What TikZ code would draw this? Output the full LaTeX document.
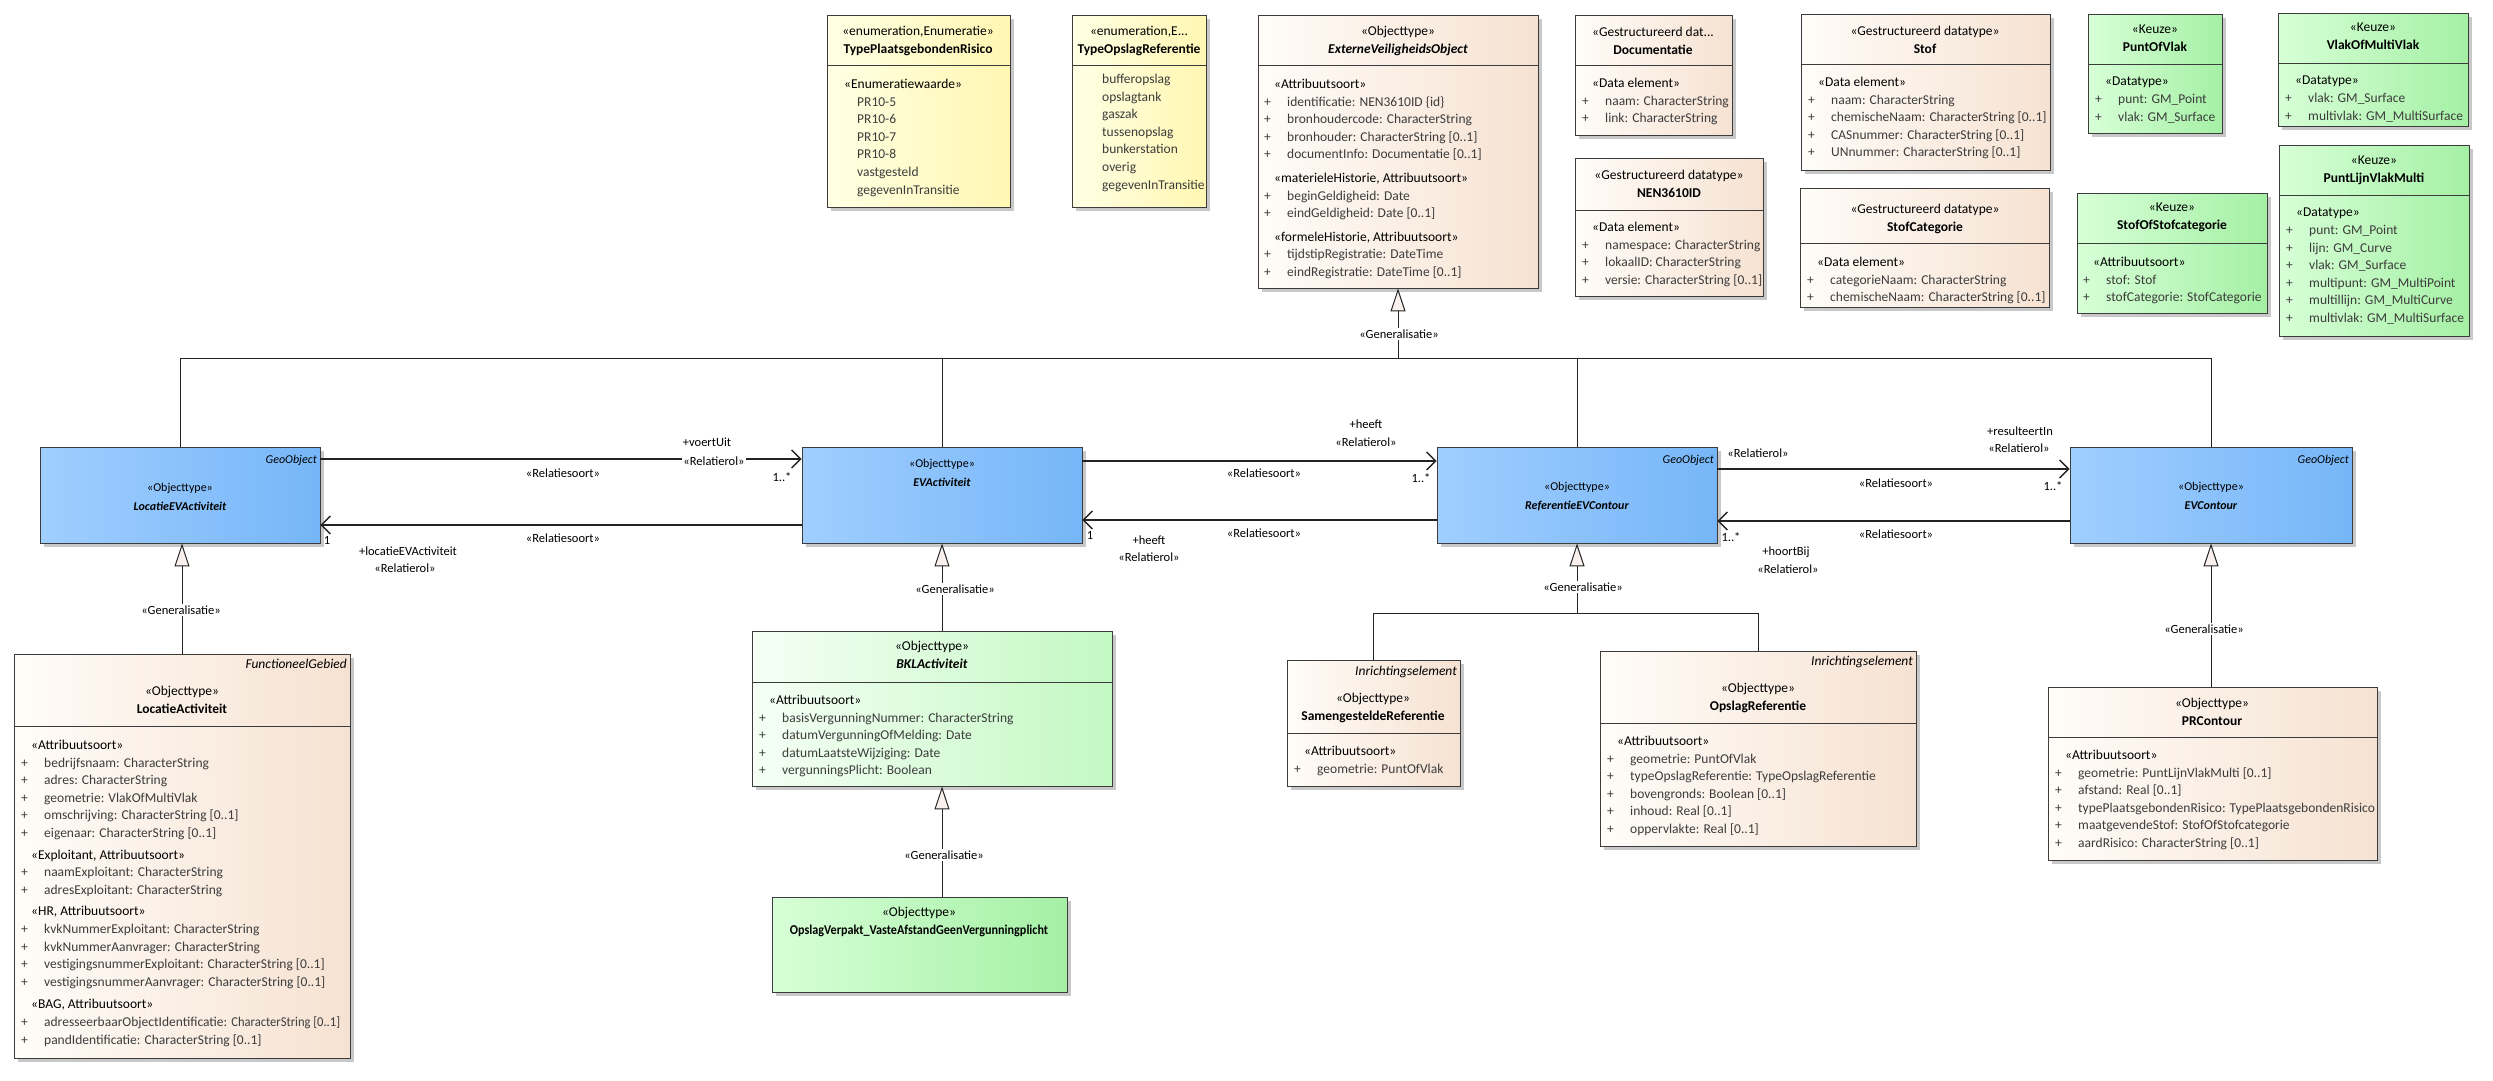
\documentclass[tikz,border=0pt]{standalone}
\usepackage{fontspec}
\setmainfont{Carlito}
\usetikzlibrary{arrows.meta, positioning, fit, shadows}
\usepackage{xcolor}
\definecolor{boxline}{RGB}{60,60,60}
\definecolor{linegray}{RGB}{35,35,35}
\definecolor{attrgray}{RGB}{60,60,60}
\definecolor{objleft}{RGB}{255,252,248}
\definecolor{objright}{RGB}{246,226,210}
\definecolor{enumleft}{RGB}{255,255,228}
\definecolor{enumright}{RGB}{255,247,178}
\definecolor{keuzeleft}{RGB}{215,255,215}
\definecolor{keuzeright}{RGB}{165,240,165}
\definecolor{bklleft}{RGB}{245,255,245}
\definecolor{bklright}{RGB}{195,248,195}
\definecolor{geoleft}{RGB}{160,206,255}
\definecolor{georight}{RGB}{118,182,248}
\definecolor{genfill}{RGB}{250,240,238}
\definecolor{shadowgray}{RGB}{200,200,200}
\newcommand{\umlgrp}[1]{\hspace*{10pt}{\color{black}#1}}
\newcommand{\umlattr}[1]{\makebox[23pt][l]{+}#1}
\newcommand{\umlval}[1]{\hspace*{23pt}#1}

\begin{document}
\begin{tikzpicture}[x=1pt, y=-1pt,
  box/.style={rectangle, draw=boxline, line width=0.9pt, inner sep=0pt,
    drop shadow={shadow xshift=4pt, shadow yshift=-4pt, fill=shadowgray, opacity=1}},
  objbox/.style={box, left color=objleft, right color=objright},
  enumbox/.style={box, left color=enumleft, right color=enumright},
  keuzebox/.style={box, left color=keuzeleft, right color=keuzeright},
  bklbox/.style={box, left color=bklleft, right color=bklright},
  geobox/.style={box, left color=geoleft, right color=georight},
  sep/.style={draw=boxline, line width=0.9pt},
  hdr/.style={anchor=north, align=center, inner sep=0pt, font=\fontsize{13.5}{17.6}\selectfont},
  attrs/.style={anchor=north west, align=left, inner sep=0pt, text=attrgray, font=\fontsize{13.5}{17.6}\selectfont},
  tag/.style={anchor=north east, inner sep=0pt, font=\fontsize{13.5}{17.6}\selectfont\itshape},
  geotxt/.style={anchor=north, align=center, inner sep=0pt, font=\fontsize{12}{19}\selectfont},
  lbl/.style={inner sep=1pt, font=\fontsize{12.5}{14}\selectfont},
  genlbl/.style={lbl, fill=white, inner sep=2pt},
  assoc/.style={draw=linegray, line width=1.6pt, -{Straight Barb[length=9pt, width=18pt, line width=1.3pt]}},
  genline/.style={draw=linegray, line width=1pt},
  gen/.style={genline, -{Triangle[length=23pt, width=15pt, fill=genfill, line width=1pt]}},
]
\path[use as bounding box, fill=white] (0,0) rectangle (2493,1080);

% enumeraties
\node[enumbox, fit={(827,15) (1010,207)}] (tpr) {};
\draw[sep] (827,65) -- (1010,65);
\node[hdr] (tpr-h) at (918,26) {«enumeration,Enumeratie»\\\textbf{TypePlaatsgebondenRisico}};
\node[attrs] (tpr-a) at (834,79) {\umlgrp{«Enumeratiewaarde»}\\\umlval{PR10-5}\\\umlval{PR10-6}\\\umlval{PR10-7}\\\umlval{PR10-8}\\\umlval{vastgesteld}\\\umlval{gegevenInTransitie}};

\node[enumbox, fit={(1072,15) (1206,207)}] (tor) {};
\draw[sep] (1072,65) -- (1206,65);
\node[hdr] (tor-h) at (1139,26) {«enumeration,E...\\\textbf{TypeOpslagReferentie}};
\node[attrs] (tor-a) at (1079,74) {\umlval{bufferopslag}\\\umlval{opslagtank}\\\umlval{gaszak}\\\umlval{tussenopslag}\\\umlval{bunkerstation}\\\umlval{overig}\\\umlval{gegevenInTransitie}};

% supertype
\node[objbox, fit={(1258,15) (1538,288)}] (evo) {};
\draw[sep] (1258,65) -- (1538,65);
\node[hdr] (evo-h) at (1398,26) {«Objecttype»\\\textbf{\textit{ExterneVeiligheidsObject}}};
\node[attrs] (evo-a) at (1264,79) {\umlgrp{«Attribuutsoort»}\\\umlattr{identificatie: NEN3610ID \{id\}}\\\umlattr{bronhoudercode: CharacterString}\\\umlattr{bronhouder: CharacterString [0..1]}\\\umlattr{documentInfo: Documentatie [0..1]}\\[6pt]
  \umlgrp{«materieleHistorie, Attribuutsoort»}\\\umlattr{beginGeldigheid: Date}\\\umlattr{eindGeldigheid: Date [0..1]}\\[6pt]
  \umlgrp{«formeleHistorie, Attribuutsoort»}\\\umlattr{tijdstipRegistratie: DateTime}\\\umlattr{eindRegistratie: DateTime [0..1]}};

% datatypes
\node[objbox, fit={(1575,15) (1732,135)}] (doc) {};
\draw[sep] (1575,65) -- (1732,65);
\node[hdr] (doc-h) at (1653,27) {«Gestructureerd dat...\\\textbf{Documentatie}};
\node[attrs] (doc-a) at (1582,78) {\umlgrp{«Data element»}\\\umlattr{naam: CharacterString}\\\umlattr{link: CharacterString}};

\node[objbox, fit={(1575,158) (1763,296)}] (nen) {};
\draw[sep] (1575,210) -- (1763,210);
\node[hdr] (nen-h) at (1669,170) {«Gestructureerd datatype»\\\textbf{NEN3610ID}};
\node[attrs] (nen-a) at (1582,222) {\umlgrp{«Data element»}\\\umlattr{namespace: CharacterString}\\\umlattr{lokaalID: CharacterString}\\\umlattr{versie: CharacterString [0..1]}};

\node[objbox, fit={(1801,14) (2050,170)}] (stof) {};
\draw[sep] (1801,64) -- (2050,64);
\node[hdr] (stof-h) at (1925,26) {«Gestructureerd datatype»\\\textbf{Stof}};
\node[attrs] (stof-a) at (1808,77) {\umlgrp{«Data element»}\\\umlattr{naam: CharacterString}\\\umlattr{chemischeNaam: CharacterString [0..1]}\\\umlattr{CASnummer: CharacterString [0..1]}\\\umlattr{UNnummer: CharacterString [0..1]}};

\node[objbox, fit={(1800,188) (2049,307)}] (stofcat) {};
\draw[sep] (1800,243) -- (2049,243);
\node[hdr] (stofcat-h) at (1925,204) {«Gestructureerd datatype»\\\textbf{StofCategorie}};
\node[attrs] (stofcat-a) at (1807,257) {\umlgrp{«Data element»}\\\umlattr{categorieNaam: CharacterString}\\\umlattr{chemischeNaam: CharacterString [0..1]}};

% keuzes
\node[keuzebox, fit={(2088,14) (2222,133)}] (pov) {};
\draw[sep] (2088,64) -- (2222,64);
\node[hdr] (pov-h) at (2155,25) {«Keuze»\\\textbf{PuntOfVlak}};
\node[attrs] (pov-a) at (2095,77) {\umlgrp{«Datatype»}\\\umlattr{punt: GM\_Point}\\\umlattr{vlak: GM\_Surface}};

\node[keuzebox, fit={(2278,13) (2468,126)}] (vomv) {};
\draw[sep] (2278,63) -- (2468,63);
\node[hdr] (vomv-h) at (2373,23) {«Keuze»\\\textbf{VlakOfMultiVlak}};
\node[attrs] (vomv-a) at (2285,76) {\umlgrp{«Datatype»}\\\umlattr{vlak: GM\_Surface}\\\umlattr{multivlak: GM\_MultiSurface}};

\node[keuzebox, fit={(2077,193) (2267,313)}] (sosc) {};
\draw[sep] (2077,243) -- (2267,243);
\node[hdr] (sosc-h) at (2172,203) {«Keuze»\\\textbf{StofOfStofcategorie}};
\node[attrs] (sosc-a) at (2083,257) {\umlgrp{«Attribuutsoort»}\\\umlattr{stof: Stof}\\\umlattr{stofCategorie: StofCategorie}};

\node[keuzebox, fit={(2279,145) (2469,336)}] (plvm) {};
\draw[sep] (2279,195) -- (2469,195);
\node[hdr] (plvm-h) at (2374,156) {«Keuze»\\\textbf{PuntLijnVlakMulti}};
\node[attrs] (plvm-a) at (2286,208) {\umlgrp{«Datatype»}\\\umlattr{punt: GM\_Point}\\\umlattr{lijn: GM\_Curve}\\\umlattr{vlak: GM\_Surface}\\\umlattr{multipunt: GM\_MultiPoint}\\\umlattr{multillijn: GM\_MultiCurve}\\\umlattr{multivlak: GM\_MultiSurface}};

% GeoObject klassen
\node[geobox, fit={(40,447) (320,543)}] (locev) {};
\node[tag, font=\fontsize{12}{14}\selectfont\itshape] (locev-g) at (317,455) {GeoObject};
\node[geotxt] (locev-t) at (180,483) {«Objecttype»\\\textbf{\textit{LocatieEVActiviteit}}};

\node[geobox, fit={(802,447) (1082,543)}] (evact) {};
\node[geotxt] (evact-t) at (942,459) {«Objecttype»\\\textbf{\textit{EVActiviteit}}};

\node[geobox, fit={(1437,447) (1717,543)}] (refev) {};
\node[tag, font=\fontsize{12}{14}\selectfont\itshape] (refev-g) at (1714,455) {GeoObject};
\node[geotxt] (refev-t) at (1577,482) {«Objecttype»\\\textbf{\textit{ReferentieEVContour}}};

\node[geobox, fit={(2070,447) (2352,543)}] (evcont) {};
\node[tag, font=\fontsize{12}{14}\selectfont\itshape] (evcont-g) at (2349,455) {GeoObject};
\node[geotxt] (evcont-t) at (2211,482) {«Objecttype»\\\textbf{\textit{EVContour}}};

% subtypes
\node[objbox, fit={(14,654) (350,1058)}] (locact) {};
\draw[sep] (14,726) -- (350,726);
\node[tag] (locact-g) at (347,659) {FunctioneelGebied};
\node[hdr] (locact-h) at (182,686) {«Objecttype»\\\textbf{LocatieActiviteit}};
\node[attrs] (locact-a) at (21,740) {\umlgrp{«Attribuutsoort»}\\\umlattr{bedrijfsnaam: CharacterString}\\\umlattr{adres: CharacterString}\\\umlattr{geometrie: VlakOfMultiVlak}\\\umlattr{omschrijving: CharacterString [0..1]}\\\umlattr{eigenaar: CharacterString [0..1]}\\[4pt]
  \umlgrp{«Exploitant, Attribuutsoort»}\\\umlattr{naamExploitant: CharacterString}\\\umlattr{adresExploitant: CharacterString}\\[4pt]
  \umlgrp{«HR, Attribuutsoort»}\\\umlattr{kvkNummerExploitant: CharacterString}\\\umlattr{kvkNummerAanvrager: CharacterString}\\\umlattr{vestigingsnummerExploitant: CharacterString [0..1]}\\\umlattr{vestigingsnummerAanvrager: CharacterString [0..1]}\\[5pt]
  \umlgrp{«BAG, Attribuutsoort»}\\\umlattr{adresseerbaarObjectIdentificatie: \scalebox{0.93}[1]{CharacterString [0..1]}}\\\umlattr{pandIdentificatie: CharacterString [0..1]}};

\node[bklbox, fit={(752,631) (1112,786)}] (bkl) {};
\draw[sep] (752,682) -- (1112,682);
\node[hdr] (bkl-h) at (932,641) {«Objecttype»\\\textbf{\textit{BKLActiviteit}}};
\node[attrs] (bkl-a) at (759,695) {\umlgrp{«Attribuutsoort»}\\\umlattr{basisVergunningNummer: CharacterString}\\\umlattr{datumVergunningOfMelding: Date}\\\umlattr{datumLaatsteWijziging: Date}\\\umlattr{vergunningsPlicht: Boolean}};

\node[keuzebox, fit={(772,897) (1067,992)}] (opv) {};
\node[hdr] (opv-h) at (919,907) {«Objecttype»\\\textbf{\scalebox{0.9}[1]{OpslagVerpakt\_VasteAfstandGeenVergunningplicht}}};

\node[objbox, fit={(1287,660) (1460,786)}] (samref) {};
\draw[sep] (1287,733) -- (1460,733);
\node[tag] (samref-g) at (1457,666) {Inrichtingselement};
\node[hdr] (samref-h) at (1373,693) {«Objecttype»\\\textbf{SamengesteldeReferentie}};
\node[attrs] (samref-a) at (1294,746) {\umlgrp{«Attribuutsoort»}\\\umlattr{geometrie: PuntOfVlak}};

\node[objbox, fit={(1600,651) (1916,846)}] (opref) {};
\draw[sep] (1600,723) -- (1916,723);
\node[tag] (opref-g) at (1913,656) {Inrichtingselement};
\node[hdr] (opref-h) at (1758,683) {«Objecttype»\\\textbf{OpslagReferentie}};
\node[attrs] (opref-a) at (1607,736) {\umlgrp{«Attribuutsoort»}\\\umlattr{geometrie: PuntOfVlak}\\\umlattr{typeOpslagReferentie: TypeOpslagReferentie}\\\umlattr{bovengronds: Boolean [0..1]}\\\umlattr{inhoud: Real [0..1]}\\\umlattr{oppervlakte: Real [0..1]}};

\node[objbox, fit={(2048,687) (2377,860)}] (prc) {};
\draw[sep] (2048,737) -- (2377,737);
\node[hdr] (prc-h) at (2212,698) {«Objecttype»\\\textbf{PRContour}};
\node[attrs] (prc-a) at (2055,750) {\umlgrp{«Attribuutsoort»}\\\umlattr{geometrie: PuntLijnVlakMulti [0..1]}\\\umlattr{afstand: Real [0..1]}\\\umlattr{typePlaatsgebondenRisico: TypePlaatsgebondenRisico}\\\umlattr{maatgevendeStof: StofOfStofcategorie}\\\umlattr{aardRisico: CharacterString [0..1]}};

% generalisaties
\coordinate (evobar) at (1398,358);
\draw[genline] (locev.north) |- (evobar);
\draw[genline] (evact.north) |- (evobar);
\draw[genline] (refev.north) |- (evobar);
\draw[genline] (evcont.north) |- (evobar);
\draw[gen] (evobar) -- (evo.south);
\node[genlbl] (g1) at (1399,334) {«Generalisatie»};

\draw[gen] (locact.north) -- (locact.north |- locev.south);
\node[genlbl] (g2) at (181,610) {«Generalisatie»};

\draw[gen] (bkl.north -| evact.south) -- (evact.south);
\node[genlbl] (g3) at (955,589) {«Generalisatie»};

\draw[gen] (opv.north -| evact.south) -- (bkl.south -| evact.south);
\node[genlbl] (g4) at (944,855) {«Generalisatie»};

\coordinate (refbar) at (1577,613);
\draw[genline] (samref.north) |- (refbar);
\draw[genline] (opref.north) |- (refbar);
\draw[gen] (refbar) -- (refev.south);
\node[genlbl] (g5) at (1583,587) {«Generalisatie»};

\draw[gen] (prc.north -| evcont.south) -- (evcont.south);
\node[genlbl] (g6) at (2204,629) {«Generalisatie»};

% associaties
\draw[assoc] ([yshift=36pt]locev.east) -- ([yshift=36pt]evact.west);
\node[lbl] (a1r) at (707,442) {+voertUit};
\node[lbl, fill=white] (a1s) at (714,461) {«Relatierol»};
\node[lbl] (a1t) at (563,473) {«Relatiesoort»};
\node[lbl] (a1m) at (782,477) {1..*};

\draw[assoc] ([yshift=-30pt]evact.west) -- ([yshift=-30pt]locev.east);
\node[lbl] (a2t) at (563,538) {«Relatiesoort»};
\node[lbl] (a2m) at (327,540) {1};
\node[lbl] (a2r) at (408,551) {+locatieEVActiviteit};
\node[lbl] (a2s) at (405,568) {«Relatierol»};

\draw[assoc] ([yshift=34pt]evact.east) -- ([yshift=34pt]refev.west);
\node[lbl] (a3r) at (1366,424) {+heeft};
\node[lbl] (a3s) at (1366,442) {«Relatierol»};
\node[lbl] (a3t) at (1264,473) {«Relatiesoort»};
\node[lbl] (a3m) at (1421,478) {1..*};

\draw[assoc] ([yshift=-25pt]refev.west) -- ([yshift=-25pt]evact.east);
\node[lbl] (a4t) at (1264,533) {«Relatiesoort»};
\node[lbl] (a4m) at (1090,535) {1};
\node[lbl] (a4r) at (1149,540) {+heeft};
\node[lbl] (a4s) at (1149,557) {«Relatierol»};

\draw[assoc] ([yshift=26pt]refev.east) -- ([yshift=26pt]evcont.west);
\node[lbl] (a5q) at (1758,453) {«Relatierol»};
\node[lbl] (a5r) at (2020,431) {+resulteertIn};
\node[lbl] (a5s) at (2019,448) {«Relatierol»};
\node[lbl] (a5t) at (1896,483) {«Relatiesoort»};
\node[lbl] (a5m) at (2053,486) {1..*};

\draw[assoc] ([yshift=-26pt]evcont.west) -- ([yshift=-26pt]refev.east);
\node[lbl] (a6t) at (1896,534) {«Relatiesoort»};
\node[lbl] (a6m) at (1731,537) {1..*};
\node[lbl] (a6r) at (1786,552) {+hoortBij};
\node[lbl] (a6s) at (1788,569) {«Relatierol»};
\end{tikzpicture}
\end{document}
